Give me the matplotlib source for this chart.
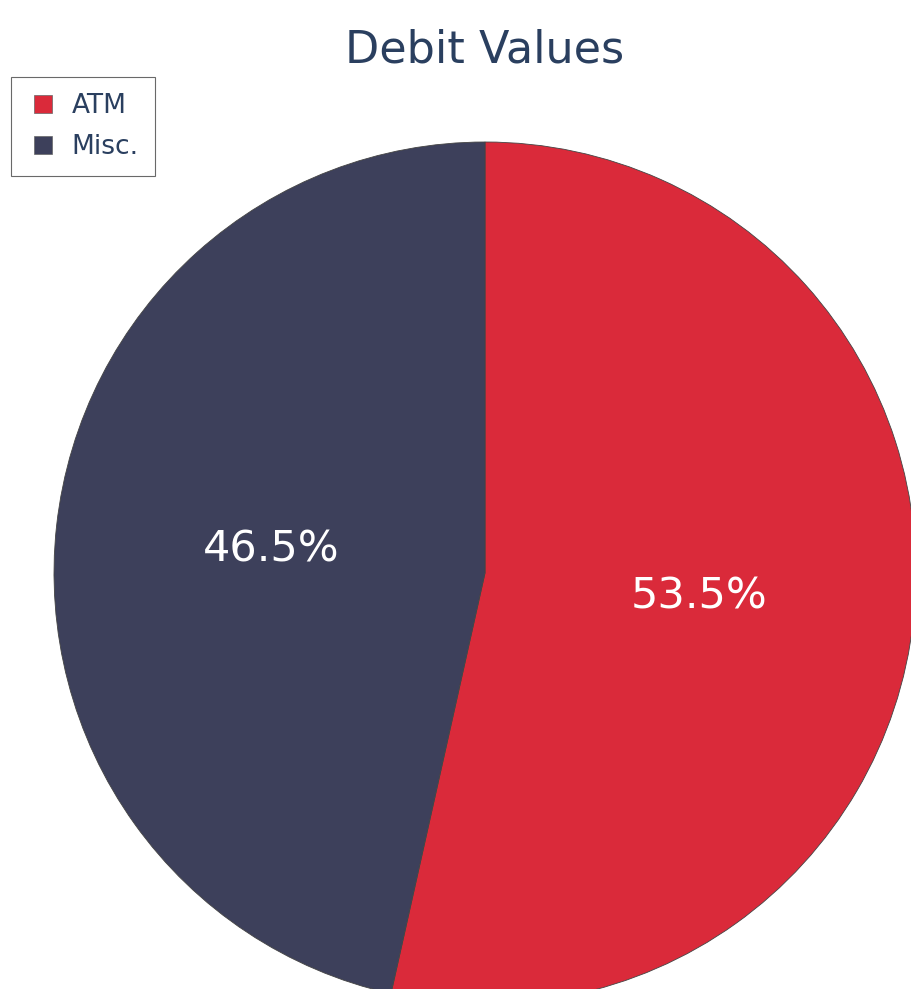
import matplotlib
matplotlib.use("Agg")
import matplotlib.pyplot as plt
from matplotlib.lines import Line2D

# data
labels = ["ATM", "Misc."]
values = [53.5, 46.5]
colors = ["#DA2A3A", "#3D405B"]

TEXT_COLOR = "#2a3f5f"

fig = plt.figure(figsize=(9.12, 9.89), dpi=100)

# pie centre ~ (485, 573) px, radius ~431 px -> runs off the right/bottom edge
W, H = 912, 989
cx, cy, r = 485, 573, 431
ax = fig.add_axes([(cx - r) / W, (H - cy - r) / H, 2 * r / W, 2 * r / H])

wedges, _, autotexts = ax.pie(
    values,
    colors=colors,
    startangle=90,
    counterclock=False,
    autopct="%.1f%%",
    pctdistance=0.5,
    radius=1.0,
    wedgeprops=dict(edgecolor="#444444", linewidth=0.6),
    textprops=dict(color="white", fontsize=31),
)
ax.set_xlim(-1, 1)
ax.set_ylim(-1, 1)
ax.set_aspect("equal")
ax.axis("off")

fig.text(485 / W, 1 - 50 / H, "Debit Values", ha="center", va="center",
         fontsize=32, color=TEXT_COLOR)

handles = [Line2D([], [], marker="s", linestyle="None", markersize=12.5,
                  markerfacecolor=c, markeredgecolor="#666666",
                  markeredgewidth=0.5) for c in colors]
leg = fig.legend(
    handles, labels,
    loc="upper left",
    bbox_to_anchor=(11 / W, 1 - 77 / H),
    fontsize=19,
    frameon=True,
    fancybox=False,
    handlelength=1.2,
    handletextpad=0.5,
    labelspacing=0.58,
    borderpad=0.6,
    borderaxespad=0,
)
leg.get_frame().set_edgecolor("#444444")
leg.get_frame().set_linewidth(0.8)
for t in leg.get_texts():
    t.set_color(TEXT_COLOR)

fig.savefig("out.png", dpi=100)
